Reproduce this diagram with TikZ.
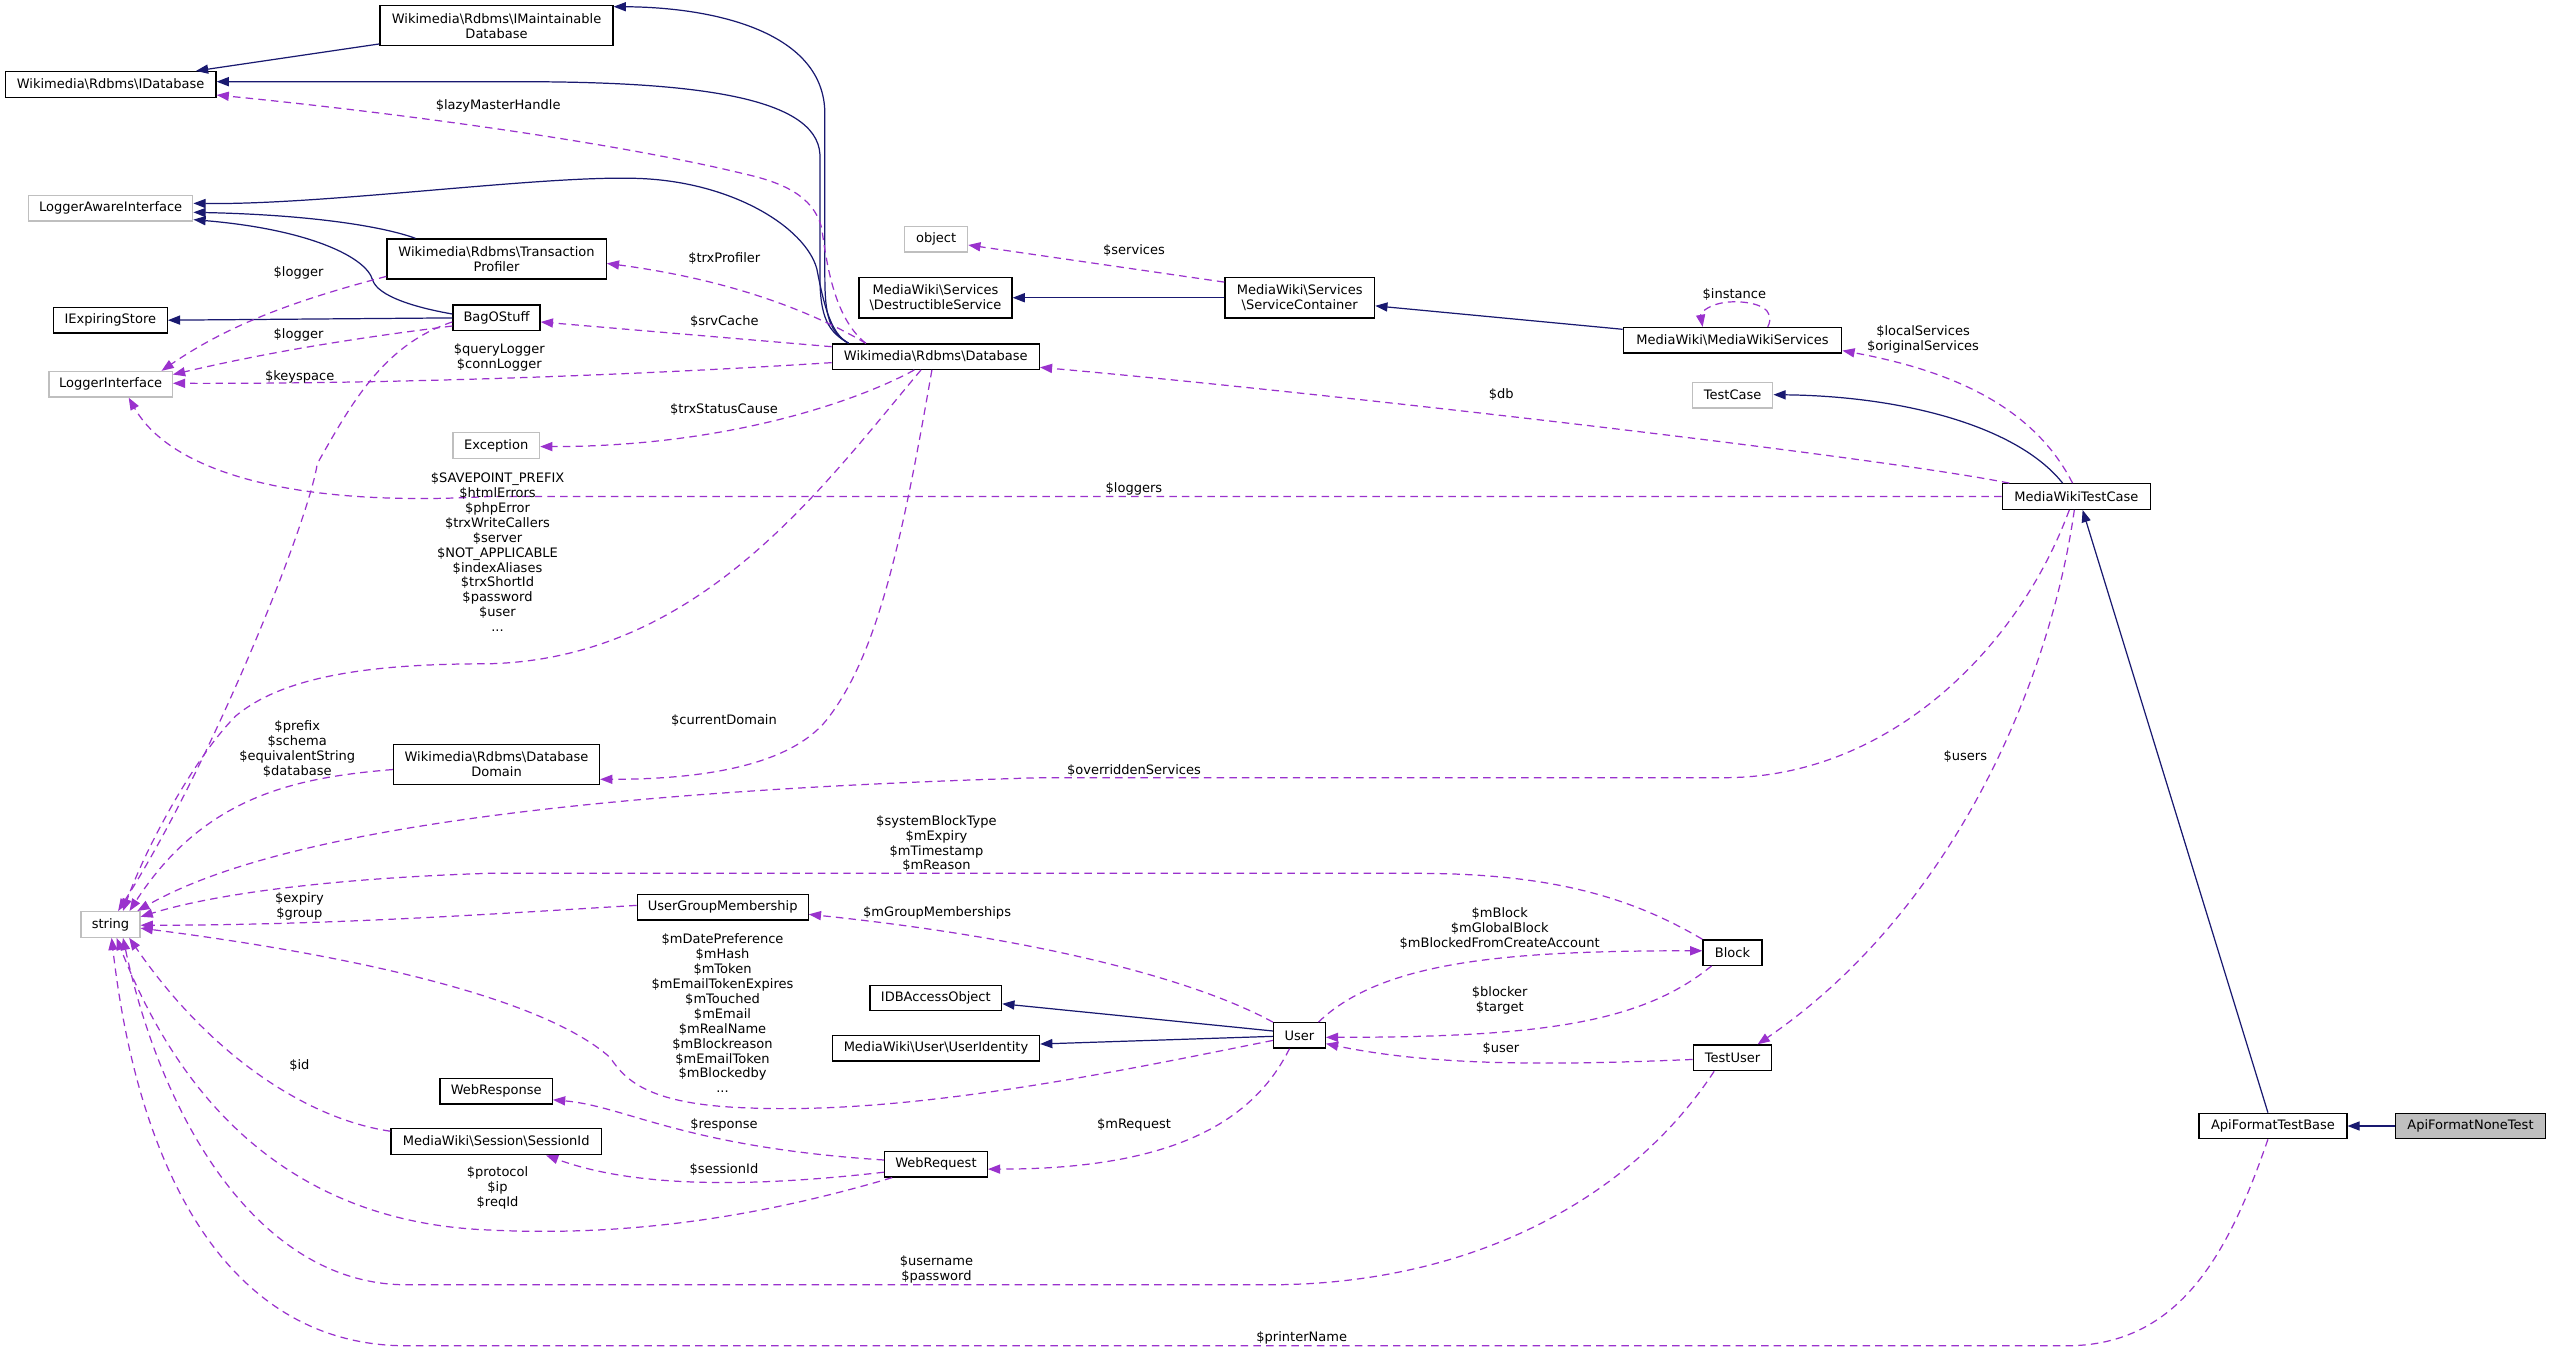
\documentclass[tikz,border=0pt]{standalone}
\usepackage{fontspec}
\setmainfont{DejaVu Sans}
\usetikzlibrary{arrows.meta,calc}
\definecolor{inhc}{HTML}{191970}
\definecolor{usec}{HTML}{9A32CD}
\definecolor{extc}{HTML}{BFBFBF}
\newcommand{\bksl}{\textbackslash}
\newcommand{\dfont}{\fontsize{8bp}{9.16bp}\selectfont}
\begin{document}
\begin{tikzpicture}[x=1bp,y=-1bp,
  cls/.style={draw=black, line width=0.8bp, rectangle, inner sep=0pt, align=center, font=\dfont, text=black},
  ext/.style={cls, draw=extc},
  inh/.style={draw=inhc, line width=0.75bp, -{Triangle[length=7.5bp,width=5.6bp]}},
  use/.style={draw=usec, line width=0.75bp, dash pattern=on 4.6bp off 3.2bp, -{Triangle[length=7.5bp,width=5.6bp]}},
  lbl/.style={inner sep=0pt, align=center, font=\dfont}]
\fill[white] (0,0) rectangle (1568,831);
\useasboundingbox (0,0) rectangle (1568,831);

% nodes
\node[cls,minimum width=143.2bp,minimum height=24.6bp] (imaint) at (305.2,15.8) {Wikimedia\bksl Rdbms\bksl IMaintainable\\Database};
\node[cls,minimum width=129.5bp,minimum height=15.8bp] (idb) at (68,51.9) {Wikimedia\bksl Rdbms\bksl IDatabase};
\node[ext,minimum width=101bp,minimum height=15.7bp] (lai) at (68,128) {LoggerAwareInterface};
\node[cls,minimum width=134.8bp,minimum height=24.6bp] (tp) at (305.2,159.2) {Wikimedia\bksl Rdbms\bksl Transaction\\Profiler};
\node[cls,minimum width=70bp,minimum height=15.7bp] (ies) at (67.8,196.8) {IExpiringStore};
\node[cls,minimum width=53.6bp,minimum height=15.7bp] (bag) at (305.2,195.4) {BagOStuff};
\node[ext,minimum width=75.8bp,minimum height=15.7bp] (li) at (68,236.2) {LoggerInterface};
\node[cls,minimum width=127.2bp,minimum height=15.6bp] (db) at (575.2,219.2) {Wikimedia\bksl Rdbms\bksl Database};
\node[ext,minimum width=38.7bp,minimum height=15.6bp] (obj) at (575.4,147.1) {object};
\node[cls,minimum width=94bp,minimum height=25bp] (ds) at (575,183) {MediaWiki\bksl Services\\\bksl DestructibleService};
\node[cls,minimum width=92bp,minimum height=25bp] (sc) at (798.9,183) {MediaWiki\bksl Services\\\bksl ServiceContainer};
\node[cls,minimum width=134.3bp,minimum height=15.7bp] (mws) at (1064.9,209.2) {MediaWiki\bksl MediaWikiServices};
\node[ext,minimum width=49.3bp,minimum height=15.6bp] (tc) at (1065,242.9) {TestCase};
\node[cls,minimum width=91.2bp,minimum height=15.7bp] (mwtc) at (1276.3,305.2) {MediaWikiTestCase};
\node[ext,minimum width=53.3bp,minimum height=15.7bp] (exc) at (305,273.9) {Exception};
\node[cls,minimum width=126.6bp,minimum height=24.8bp] (dd) at (305.2,469.9) {Wikimedia\bksl Rdbms\bksl Database\\Domain};
\node[ext,minimum width=36.2bp,minimum height=15.7bp] (str) at (67.9,568.2) {string};
\node[cls,minimum width=105.1bp,minimum height=15.6bp] (ugm) at (444.2,557.7) {UserGroupMembership};
\node[cls,minimum width=80.9bp,minimum height=15.6bp] (idbao) at (575.2,613.4) {IDBAccessObject};
\node[cls,minimum width=127.3bp,minimum height=15.6bp] (uid) at (575.3,644.3) {MediaWiki\bksl User\bksl UserIdentity};
\node[cls,minimum width=31.8bp,minimum height=15.5bp] (user) at (798.7,636.4) {User};
\node[cls,minimum width=36.3bp,minimum height=15.6bp] (block) at (1064.9,585.5) {Block};
\node[cls,minimum width=48.2bp,minimum height=15.8bp] (tuser) at (1064.9,650.2) {TestUser};
\node[cls,minimum width=69bp,minimum height=15.6bp] (wresp) at (305,670.8) {WebResponse};
\node[cls,minimum width=129.4bp,minimum height=16bp] (sid) at (305,701.7) {MediaWiki\bksl Session\bksl SessionId};
\node[cls,minimum width=63.1bp,minimum height=15.5bp] (wreq) at (575.3,715.7) {WebRequest};
\node[cls,minimum width=90.8bp,minimum height=15.6bp] (aftb) at (1397.1,692.1) {ApiFormatTestBase};
\node[cls,fill=extc,minimum width=92bp,minimum height=15.6bp] (afnt) at (1518.5,692.1) {ApiFormatNoneTest};

% inheritance
\draw[inh] ($(imaint.south west)+(0,-1.5)$) -- ($(idb.north east)+(-12.7,0)$);
\draw[inh] ($(db.north west)+(10.4,0)$) .. controls (510,204) and (507,195) .. (507,170) -- (507,70) .. controls (507,20) and (440,4.5) .. ($(imaint.north east)+(0,1)$);
\draw[inh] ($(db.north west)+(10.4,0)$) .. controls (509,204) and (504,195) .. (504,170) -- (504,95) .. controls (502,58) and (420,50.2) .. (317,50.2) -- ($(idb.east)+(0,-1.7)$);
\draw[inh] ($(db.north west)+(10.4,0)$) .. controls (510,205) and (506,185) .. (502,165) .. controls (495,140) and (450,111) .. (390,109.6) .. controls (330,108) and (200,126) .. ($(lai.east)+(0,-3)$);
\draw[inh] ($(tp.north west)+(18,0)$) .. controls (235,139) and (190,132) .. ($(lai.east)+(0,2.5)$);
\draw[inh] ($(bag.west)+(0,-2.4)$) .. controls (255,189) and (232,182) .. (229,172) .. controls (225,158) and (190,141) .. ($(lai.east)+(0,7)$);
\draw[inh] (bag.west) -- (ies.east);
\draw[inh] (sc.west) -- (ds.east);
\draw[inh] ($(mws.west)+(0,-6.8)$) -- ($(sc.east)+(0,5)$);
\draw[inh] ($(mwtc.north west)+(37.5,0)$) .. controls (1240,262) and (1170,243.5) .. ($(tc.east)+(0,-0.3)$);
\draw[inh] ($(aftb.north west)+(42.7,0)$) -- ($(mwtc.south west)+(49.8,0)$);
\draw[inh] (afnt.west) -- (aftb.east);
\draw[inh] ($(user.west)+(0,-2.7)$) -- ($(idbao.east)+(0,3.6)$);
\draw[inh] ($(user.west)+(0,0.6)$) -- ($(uid.east)+(0,-2.6)$);

% usage
\draw[use] ($(db.north west)+(21,0)$) .. controls (512,195) and (508,160) .. (505,140) .. controls (500,120) and (480,112) .. (458,107) .. controls (380,88) and (250,70) .. ($(idb.east)+(0,6.5)$);
\draw[use] ($(db.north west)+(21,0)$) .. controls (500,192) and (450,172) .. ($(tp.east)+(0,2.7)$);
\draw[use] ($(db.west)+(0,-6.1)$) -- ($(bag.east)+(0,2.5)$);
\draw[use] ($(db.west)+(0,3.7)$) .. controls (400,230) and (250,236) .. ($(li.east)+(0,-0.6)$);
\draw[use] ($(tp.south west)+(0,-2)$) .. controls (180,185) and (140,200) .. ($(li.north east)+(-7,0)$);
\draw[use] ($(bag.west)+(0,5)$) .. controls (200,210) and (150,220) .. ($(li.east)+(0,-6)$);
\draw[use] ($(bag.west)+(0,2.5)$) .. controls (235,212) and (215,250) .. (195,285) .. controls (190,320) and (130,470) .. ($(str.north west)+(23.2,0)$);
\draw[use] ($(db.south west)+(50.8,0)$) .. controls (530,245) and (450,274.5) .. ($(exc.east)+(0,0.6)$);
\draw[use] ($(db.south west)+(54.9,0)$) .. controls (505,300) and (430,405) .. (300,408) .. controls (230,408) and (175,415) .. (145,440) .. controls (120,465) and (90,520) .. ($(str.north west)+(26.2,0)$);
\draw[use] ($(db.south west)+(61.6,0)$) .. controls (555,330) and (540,400) .. (510,440) .. controls (490,468) and (440,479) .. ($(dd.east)+(0,9.1)$);
\draw[use] ($(dd.west)+(0,3.1)$) .. controls (180,478) and (125,490) .. ($(str.north west)+(30.2,0)$);
\draw[use] ($(sc.north west)+(0,3.3)$) -- ($(obj.east)+(0,3.5)$);
\draw[use] ($(mwtc.north west)+(4.7,0)$) .. controls (1150,280) and (800,240) .. ($(db.east)+(0,6.6)$);
\draw[use] (mwtc.west) -- (300,305.2) .. controls (180,312) and (105,290) .. ($(li.south west)+(49.4,0)$);
\draw[use] ($(mws.north west)+(89.2,0)$) .. controls (1092,190) and (1080,185.5) .. (1066,185.5) .. controls (1052,185.5) and (1045,192) .. ($(mws.north west)+(49.2,0)$);
\draw[use] ($(mwtc.north west)+(43.6,0)$) .. controls (1250,250) and (1200,228) .. ($(mws.east)+(0,6.3)$);
\draw[use] ($(mwtc.south west)+(44.7,0)$) .. controls (1260,420) and (1200,560) .. ($(tuser.north east)+(-9.1,0)$);
\draw[use] ($(mwtc.south west)+(41.6,0)$) .. controls (1240,400) and (1160,478) .. (1060,478) -- (640,478) .. controls (400,485) and (180,505) .. ($(str.north east)+(-2,0)$);
\draw[use] (block.north west) .. controls (1000,550) and (950,536.8) .. (870,536.8) -- (300,536.8) .. controls (200,540) and (130,550) .. ($(str.east)+(0,-4.7)$);
\draw[use] ($(ugm.west)+(0,-1.2)$) .. controls (300,562) and (200,568.7) .. ($(str.east)+(0,0.5)$);
\draw[use] ($(user.west)+(0,3.1)$) .. controls (680,660) and (560,685) .. (460,681) .. controls (400,679) and (385,665) .. (375,650) .. controls (330,610) and (200,585) .. ($(str.east)+(0,2.3)$);
\draw[use] (user.north west) .. controls (740,605) and (650,578) .. ($(ugm.east)+(0,4.3)$);
\draw[use] ($(user.north east)+(-4.6,0)$) .. controls (850,590) and (930,584.4) .. ($(block.west)+(0,-1.1)$);
\draw[use] ($(block.south west)+(5.7,0)$) .. controls (1010,628) and (950,637.6) .. ($(user.east)+(0,1.2)$);
\draw[use] ($(tuser.west)+(0,1)$) .. controls (950,655) and (880,655) .. ($(user.east)+(0,5.1)$);
\draw[use] ($(user.south west)+(10.2,0)$) .. controls (770,690) and (720,718.6) .. ($(wreq.east)+(0,2.9)$);
\draw[use] ($(wreq.west)+(0,-2.7)$) .. controls (420,705) and (385,680) .. ($(wresp.south east)+(0,-3)$);
\draw[use] ($(wreq.west)+(0,4.8)$) .. controls (460,730) and (390,730) .. ($(sid.south east)+(-34.5,0)$);
\draw[use] ($(wreq.south west)+(5,0)$) .. controls (460,750) and (380,760) .. (300,756) .. controls (200,752) and (120,700) .. ($(str.south west)+(22.2,0)$);
\draw[use] ($(sid.north west)+(0,2)$) .. controls (190,688) and (130,650) .. ($(str.south west)+(30,0)$);
\draw[use] ($(tuser.south west)+(13.2,0)$) .. controls (1000,740) and (900,789.7) .. (780,789.7) -- (250,789.7) .. controls (160,789.7) and (100,690) .. ($(str.south west)+(26.2,0)$);
\draw[use] ($(aftb.south west)+(42.7,0)$) .. controls (1370,770) and (1340,827.2) .. (1270,827.2) -- (250,827.2) .. controls (140,827.2) and (85,720) .. ($(str.south west)+(19.2,0)$);

% labels
\node[lbl] (l1) at (306.2,65) {\$lazyMasterHandle};
\node[lbl] (l2) at (445.2,158.8) {\$trxProfiler};
\node[lbl] (l3) at (445.2,197.7) {\$srvCache};
\node[lbl] (l4) at (183.5,168) {\$logger};
\node[lbl] (l5) at (183.5,206) {\$logger};
\node[lbl] (l6) at (306.9,219.7) {\$queryLogger\\\$connLogger};
\node[lbl] (l7) at (184.2,231.5) {\$keyspace};
\node[lbl] (l8) at (445,252) {\$trxStatusCause};
\node[lbl] (l9) at (305.8,339.4) {\$SAVEPOINT\_PREFIX\\\$htmlErrors\\\$phpError\\\$trxWriteCallers\\\$server\\\$NOT\_APPLICABLE\\\$indexAliases\\\$trxShortId\\\$password\\\$user\\...};
\node[lbl] (l10) at (697,300.6) {\$loggers};
\node[lbl] (l11) at (445,443) {\$currentDomain};
\node[lbl] (l12) at (182.7,460.2) {\$prefix\\\$schema\\\$equivalentString\\\$database};
\node[lbl] (l13) at (697,473.3) {\$overriddenServices};
\node[lbl] (l14) at (575.6,518.5) {\$systemBlockType\\\$mExpiry\\\$mTimestamp\\\$mReason};
\node[lbl] (l15) at (184,557.2) {\$expiry\\\$group};
\node[lbl] (l16) at (576,561.3) {\$mGroupMemberships};
\node[lbl] (l17) at (444.1,622.9) {\$mDatePreference\\\$mHash\\\$mToken\\\$mEmailTokenExpires\\\$mTouched\\\$mEmail\\\$mRealName\\\$mBlockreason\\\$mEmailToken\\\$mBlockedby\\...};
\node[lbl] (l18) at (184,655) {\$id};
\node[lbl] (l19) at (445,691.5) {\$response};
\node[lbl] (l20) at (445,718.7) {\$sessionId};
\node[lbl] (l21) at (305.8,730.1) {\$protocol\\\$ip\\\$reqId};
\node[lbl] (l22) at (697,691.5) {\$mRequest};
\node[lbl] (l23) at (921.8,570.5) {\$mBlock\\\$mGlobalBlock\\\$mBlockedFromCreateAccount};
\node[lbl] (l24) at (921.8,615.1) {\$blocker\\\$target};
\node[lbl] (l25) at (922.5,644.3) {\$user};
\node[lbl] (l26) at (575.6,780) {\$username\\\$password};
\node[lbl] (l27) at (800.1,822.2) {\$printerName};
\node[lbl] (l28) at (697,154.1) {\$services};
\node[lbl] (l29) at (922.8,242.4) {\$db};
\node[lbl] (l30) at (1066,181.3) {\$instance};
\node[lbl] (l31) at (1182,208.4) {\$localServices\\\$originalServices};
\node[lbl] (l32) at (1208,465) {\$users};
\end{tikzpicture}
\end{document}
